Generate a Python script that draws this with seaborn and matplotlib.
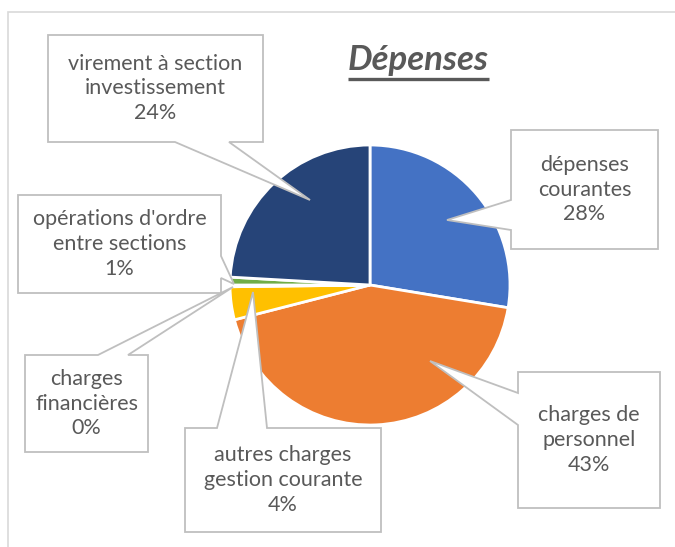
import matplotlib.pyplot as plt
import matplotlib.patches as mpatches
import seaborn as sns

# Data: slices clockwise from 12 o'clock
categories = ["dépenses courantes", "charges de personnel",
              "autres charges gestion courante", "charges financières",
              "opérations d'ordre entre sections",
              "virement à section investissement"]
values = [27.6, 43.4, 3.8, 0.2, 0.9, 24.1]
label_texts = ["dépenses\ncourantes", "charges de\npersonnel",
               "autres charges\ngestion courante", "charges\nfinancières",
               "opérations d'ordre\nentre sections",
               "virement à section\ninvestissement"]
colors = ["#4472C4", "#ED7D31", "#FFC000", "#A5A5A5", "#70AD47", "#264478"]

W, H = 675, 547

# callout layout in pixels (top-left origin): box, side of pointer, pointer base, tip
callouts = [
    dict(box=(511, 130, 658, 249), side="left", base=(200, 230), tip=(447, 220)),
    dict(box=(518, 372, 660, 508), side="left", base=(393, 425), tip=(430, 361)),
    dict(box=(185, 428, 381, 532), side="top", base=(217, 267), tip=(253, 292)),
    dict(box=(25, 355, 148, 452), side="top", base=(98, 128), tip=(233, 287)),
    dict(box=(18, 195, 221, 293), side="right", base=(256, 278), tip=(234, 284)),
    dict(box=(48, 35, 263, 142), side="bottom", base=(175, 229), tip=(310, 200)),
]


def callout_poly(box, side, base, tip):
    x0, y0, x1, y1 = box
    a, b = base
    pts = [(x0, y0)]
    if side == "top":
        pts += [(a, y0), tip, (b, y0)]
    pts += [(x1, y0)]
    if side == "right":
        pts += [(x1, a), tip, (x1, b)]
    pts += [(x1, y1)]
    if side == "bottom":
        pts += [(b, y1), tip, (a, y1)]
    pts += [(x0, y1)]
    if side == "left":
        pts += [(x0, b), tip, (x0, a)]
    return [(x, H - y) for x, y in pts]


sns.set_theme(style="white")
plt.rcParams['font.family'] = ['Lato', 'DejaVu Sans']

fig = plt.figure(figsize=(6.75, 5.47), dpi=100)
ax = fig.add_axes([0, 0, 1, 1])

ax.pie(values, colors=colors, startangle=90, counterclock=False,
       center=(370, H - 285), radius=140,
       wedgeprops=dict(edgecolor='white', linewidth=2))
ax.set_xlim(0, W)
ax.set_ylim(0, H)
ax.set_aspect('equal')
ax.axis('off')

# chart area border
ax.add_patch(mpatches.Rectangle((8, -20), W + 20, H - 12 + 20, fill=False,
                                edgecolor='#D9D9D9', linewidth=1.2, zorder=0))

# data labels in callout boxes
for txt, val, c in zip(label_texts, values, callouts):
    ax.add_patch(mpatches.Polygon(callout_poly(**c), closed=True,
                                  facecolor='white', edgecolor='#BFBFBF',
                                  linewidth=1.3, zorder=5))
    x0, y0, x1, y1 = c["box"]
    ax.text((x0 + x1) / 2, H - (y0 + y1) / 2, f"{txt}\n{round(val)}%",
            ha='center', va='center', fontsize=15.5, color='#595959',
            linespacing=1.3, zorder=6)

# title, underlined
t = ax.text(418, H - 70, "Dépenses", fontsize=25, fontweight='bold',
            fontstyle='italic', color='#595959', ha='center', va='baseline')
fig.canvas.draw()
bb = t.get_window_extent().transformed(ax.transData.inverted())
ax.plot([bb.x0, bb.x1], [H - 79, H - 79], color='#595959', linewidth=2.4,
        solid_capstyle='butt')

plt.savefig('out.png', dpi=100)
